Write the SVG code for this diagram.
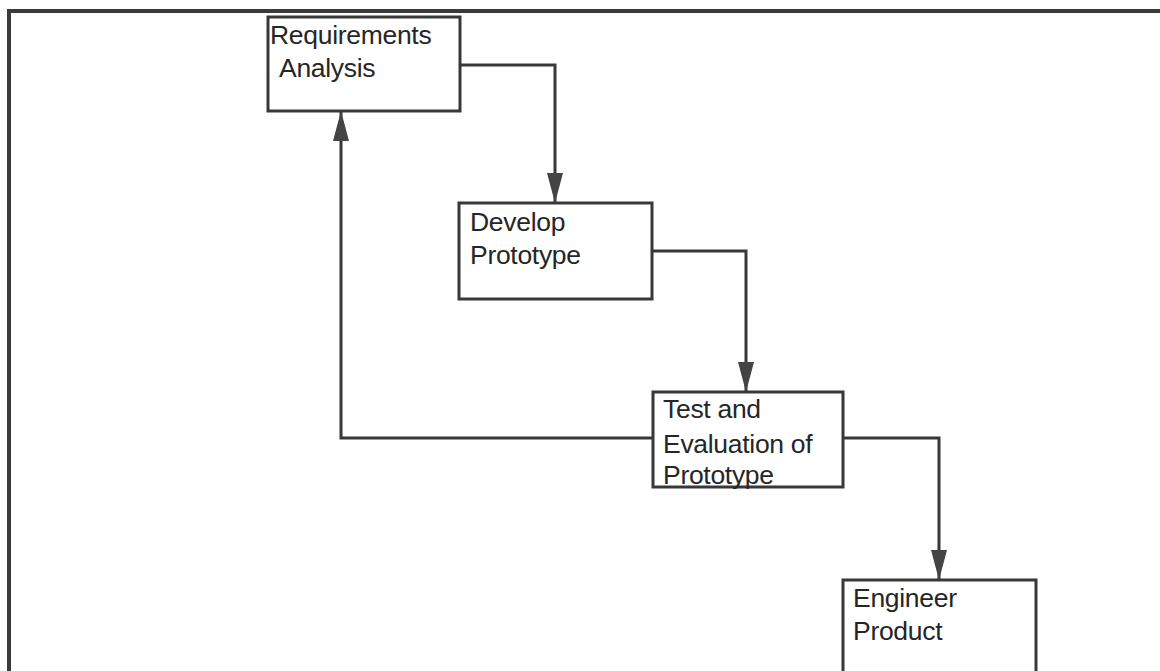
<svg xmlns="http://www.w3.org/2000/svg" width="1160" height="671" viewBox="0 0 1160 671">
<defs>
<style>
.box{fill:#ffffff;stroke:#383838;stroke-width:3}
.ln{fill:none;stroke:#383838;stroke-width:3}
.frame{fill:none;stroke:#3a3a3a;stroke-width:4}
text{font-family:"Liberation Sans",Arial,sans-serif;font-size:26.5px;fill:#262626;letter-spacing:-0.3px}
</style>
<marker id="ah" markerWidth="30" markerHeight="16" refX="30" refY="8" orient="auto" markerUnits="userSpaceOnUse">
<path d="M0,0 L30,8 L0,16 Z" fill="#444"/>
</marker>
</defs>
<rect width="1160" height="671" fill="#fefefe"/>
<path class="frame" d="M9,671 L9,11 L1160,11"/>
<g id="connectors">
<path class="ln" d="M460,65 L555,65 L555,203" marker-end="url(#ah)"/>
<path class="ln" d="M652,251 L746,251 L746,392" marker-end="url(#ah)"/>
<path class="ln" d="M653,438 L341,438 L341,111" marker-end="url(#ah)"/>
<path class="ln" d="M843,438 L939,438 L939,580" marker-end="url(#ah)"/>
</g>
<g id="requirements">
<rect class="box" x="268" y="17" width="192" height="94"/>
<text x="270" y="44">Requirements</text>
<text x="279" y="77">Analysis</text>
</g>
<g id="develop">
<rect class="box" x="459" y="203" width="193" height="96"/>
<text x="470" y="231">Develop</text>
<text x="470" y="264">Prototype</text>
</g>
<g id="test">
<rect class="box" x="653" y="392" width="190" height="95"/>
<text x="663" y="418">Test and</text>
<text x="663" y="453">Evaluation of</text>
<text x="663" y="484">Prototype</text>
</g>
<g id="engineer">
<rect class="box" x="843" y="580" width="193" height="100"/>
<text x="853" y="607">Engineer</text>
<text x="853" y="640">Product</text>
</g>
</svg>
